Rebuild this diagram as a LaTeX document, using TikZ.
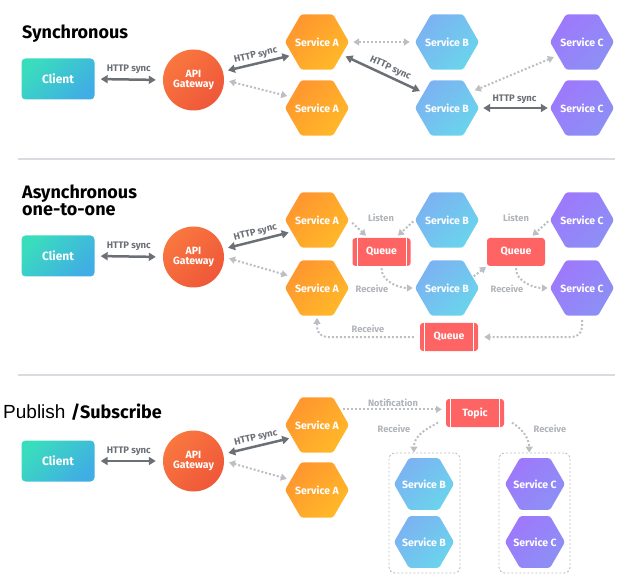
\documentclass[tikz,border=0pt]{standalone}
\usepackage{fontspec}
\setmainfont{Fira Sans}
\newfontfamily\libsans{Liberation Sans}
\usetikzlibrary{arrows.meta,shapes.geometric}
\newcommand{\hxt}[1]{\makebox[0pt][c]{#1}}
\definecolor{aOa}{HTML}{FF962F}\definecolor{aOb}{HTML}{FFB828}
\definecolor{bBa}{HTML}{7CB2F2}\definecolor{bBb}{HTML}{6AD4EC}
\definecolor{cPa}{HTML}{9E78FC}\definecolor{cPb}{HTML}{8C90F5}
\definecolor{gwa}{HTML}{F9773F}\definecolor{gwb}{HTML}{EF5739}
\definecolor{cla}{HTML}{3ADCBE}\definecolor{clb}{HTML}{40AEE4}
\definecolor{qred}{HTML}{FF6464}
\definecolor{dk}{HTML}{6B6F76}
\definecolor{lt}{HTML}{BBBEC3}
\definecolor{ltxt}{HTML}{B0B3B8}
\definecolor{sepc}{HTML}{DADAE0}
\tikzset{
  hexa/.style={regular polygon, regular polygon sides=6, minimum size=64pt, inner sep=0pt,
    rounded corners=2.5pt, text=white, font=\bfseries\fontsize{10.5}{12}\selectfont},
  hexsmall/.style={minimum size=60pt},
  hexA/.style={hexa, top color=aOa, bottom color=aOb, shading angle=45},
  hexB/.style={hexa, top color=bBa, bottom color=bBb, shading angle=45},
  hexC/.style={hexa, top color=cPa, bottom color=cPb, shading angle=45},
  clientbox/.style={rectangle, rounded corners=4pt, minimum width=73pt, minimum height=41pt,
    top color=cla, bottom color=clb, shading angle=45, text=white,
    font=\bfseries\fontsize{12}{14}\selectfont},
  gwcircle/.style={circle, minimum size=61pt, inner sep=0pt, top color=gwa, bottom color=gwb,
    shading angle=45, text=white, align=center, font=\bfseries\fontsize{10.5}{12}\selectfont},
  qbox/.style={rectangle, rounded corners=3pt, minimum width=58pt, minimum height=28pt,
    fill=qred, text=white, font=\bfseries\fontsize{10.5}{12}\selectfont},
  qlines/.style={qbox, path picture={
    \draw[white, line width=0.9pt] ([xshift=4.5pt]path picture bounding box.south west) -- ([xshift=4.5pt]path picture bounding box.north west);
    \draw[white, line width=0.9pt] ([xshift=-4.5pt]path picture bounding box.south east) -- ([xshift=-4.5pt]path picture bounding box.north east);}},
  grp/.style={rectangle, rounded corners=6pt, draw=lt, line width=0.9pt, dash pattern=on 2pt off 2pt,
    minimum width=71pt, minimum height=120pt},
  title/.style={anchor=base west, inner sep=0pt, font=\bfseries\fontsize{18}{18}\selectfont},
  solidarr/.style={draw=dk, line width=2.5pt, {Triangle[length=7pt,width=8pt]}-{Triangle[length=7pt,width=8pt]}},
  dotarr/.style={draw=lt, line width=2pt, dash pattern=on 2pt off 2pt, -{Triangle[length=6pt,width=7pt]}},
  dotdbl/.style={dotarr, {Triangle[length=6pt,width=7pt]}-{Triangle[length=6pt,width=7pt]}},
  dlab/.style={text=dk, font=\bfseries\fontsize{9.5}{11}\selectfont, inner sep=1.5pt},
  llab/.style={text=ltxt, font=\bfseries\fontsize{9.3}{11}\selectfont, inner sep=1pt},
  seprule/.style={draw=sepc, line width=2pt}
}
\begin{document}
\begin{tikzpicture}[x=1pt, y=-1pt]
\useasboundingbox (0,0) rectangle (635,588);
% separators
\coordinate (s1l) at (18,159.5); \coordinate (s1r) at (615,159.5);
\coordinate (s2l) at (18,374.5); \coordinate (s2r) at (615,374.5);
\draw[seprule] (s1l) -- (s1r);
\draw[seprule] (s2l) -- (s2r);

% ================= Synchronous =================
\node[title] (t1) at (22,39) {Synchronous};
\node[clientbox] (cl1) at (58,79) {Client};
\node[gwcircle] (gw1) at (193.5,80) {API\\[-2pt]Gateway};
\node[hexA] (a1t) at (317,42) {\hxt{Service A}};
\node[hexA] (a1b) at (317,108) {\hxt{Service A}};
\node[hexB] (b1t) at (447,42) {\hxt{Service B}};
\node[hexB] (b1b) at (447,108) {\hxt{Service B}};
\node[hexC] (c1t) at (582,42) {\hxt{Service C}};
\node[hexC] (c1b) at (582,108) {\hxt{Service C}};

\draw[solidarr, shorten <=6pt, shorten >=7pt] (cl1.east) -- node[dlab, above=3pt] {HTTP sync} (gw1.west);
\draw[solidarr, shorten <=5pt, shorten >=3pt] (gw1.16) -- node[dlab, sloped, above=1pt] {HTTP sync} (a1t.208);
\draw[dotdbl, shorten <=5pt, shorten >=4pt] (gw1.east) -- (a1b.157);
\draw[dotdbl, shorten <=4pt, shorten >=5pt] (a1t.east) -- (b1t.west);
\draw[solidarr, shorten <=4pt, shorten >=4pt] (a1t.333) -- node[dlab, sloped, above=1pt, pos=0.55] {HTTP sync} (b1b.147);
\draw[dotdbl, shorten <=4pt, shorten >=5pt] (c1t.209) -- (b1b.34);
\draw[solidarr, shorten <=4pt, shorten >=2pt] (b1b.east) -- node[dlab, above=2pt] {HTTP sync} (c1b.west);

% ================= Asynchronous one-to-one =================
\node[title] (t2) at (22,199) {Asynchronous};
\node[title] (t2b) at (22,216) {one-to-one};
\node[clientbox] (cl2) at (58,256) {Client};
\node[gwcircle] (gw2) at (193.5,257) {API\\[-2pt]Gateway};
\node[hexA] (a2t) at (317,220) {\hxt{Service A}};
\node[hexA] (a2b) at (317,288) {\hxt{Service A}};
\node[hexB] (b2t) at (447,220) {\hxt{Service B}};
\node[hexB] (b2b) at (447,288) {\hxt{Service B}};
\node[hexC] (c2t) at (582,220) {\hxt{Service C}};
\node[hexC] (c2b) at (582,288) {\hxt{Service C}};
\node[qlines] (q1) at (381.5,252) {Queue};
\node[qbox] (q2) at (516,252) {Queue};
\node[qlines] (q3) at (449,337) {Queue};

\draw[solidarr, shorten <=6pt, shorten >=7pt] (cl2.east) -- node[dlab, above=3pt] {HTTP sync} (gw2.west);
\draw[solidarr, shorten <=5pt, shorten >=3pt] (gw2.15) -- node[dlab, sloped, above=1pt] {HTTP sync} (a2t.205);
\draw[dotdbl, shorten <=5pt, shorten >=4pt] (gw2.east) -- (a2b.156);

\draw[dotarr, shorten <=4pt, shorten >=3pt] (a2t.east) -- (q1.133);
\draw[dotarr, shorten <=2pt, shorten >=3pt] (b2t.west) -- (q1.45);
\node[llab] (l1) at (381,218) {Listen};
\draw[dotarr, shorten <=2pt, shorten >=2pt] (q1.south) to[out=-90, in=180] (b2b.west);
\node[llab] (r1) at (372,289) {Receive};

\draw[dotarr, shorten <=1pt, shorten >=1pt] (b2b.23) -- (q2.south west);
\draw[dotarr, shorten <=2pt, shorten >=3pt] (c2t.west) -- (q2.45);
\node[llab] (l2) at (516,218) {Listen};
\draw[dotarr, shorten <=2pt, shorten >=2pt] (q2.south) to[out=-90, in=180] (c2b.west);
\node[llab] (r2) at (507,289) {Receive};

\draw[dotarr, rounded corners=10pt, shorten <=4pt, shorten >=6pt] (c2b.south) |- (q3.east);
\draw[dotarr, rounded corners=10pt, shorten <=6pt, shorten >=2pt] (q3.west) -| (a2b.south);
\node[llab] (r3) at (368,329) {Receive};

% ================= Publish / Subscribe =================
\node[anchor=base west, inner sep=0pt] (t3) at (3,418) {{\libsans\fontsize{19}{19}\selectfont Publish }{\bfseries\fontsize{18}{18}\selectfont/Subscribe}};
\node[clientbox] (cl3) at (58,461) {Client};
\node[gwcircle] (gw3) at (193.5,461) {API\\[-2pt]Gateway};
\node[hexA] (a3t) at (317,425) {\hxt{Service A}};
\node[hexA] (a3b) at (317,490) {\hxt{Service A}};
\node[qlines] (tp) at (475,413) {Topic};
\node[grp] (gB) at (424.5,513) {};
\node[grp] (gC) at (534.5,513) {};
\node[hexB, hexsmall] (b3t) at (424,484) {\hxt{Service B}};
\node[hexB, hexsmall] (b3b) at (424,542) {\hxt{Service B}};
\node[hexC, hexsmall] (c3t) at (535,484) {\hxt{Service C}};
\node[hexC, hexsmall] (c3b) at (535,542) {\hxt{Service C}};

\draw[solidarr, shorten <=6pt, shorten >=7pt] (cl3.east) -- node[dlab, above=3pt] {HTTP sync} (gw3.west);
\draw[solidarr, shorten <=5pt, shorten >=3pt] (gw3.13) -- node[dlab, sloped, above=1pt] {HTTP sync} (a3t.207);
\draw[dotdbl, shorten <=5pt, shorten >=4pt] (gw3.east) -- (a3b.159);

\draw[dotarr, shorten <=3pt, shorten >=4pt] (a3t.34) -- node[llab, above=1pt] {Notification} (a3t.34 -| tp.west);
\draw[dotarr, shorten <=9pt, shorten >=0pt] (tp.190) to[out=210, in=90] (gB.100);
\node[llab] (r4) at (394,429) {Receive};
\draw[dotarr, shorten <=9pt, shorten >=0pt] (tp.350) to[out=-30, in=90] (gC.95);
\node[llab] (r5) at (550,429) {Receive};
\end{tikzpicture}
\end{document}
